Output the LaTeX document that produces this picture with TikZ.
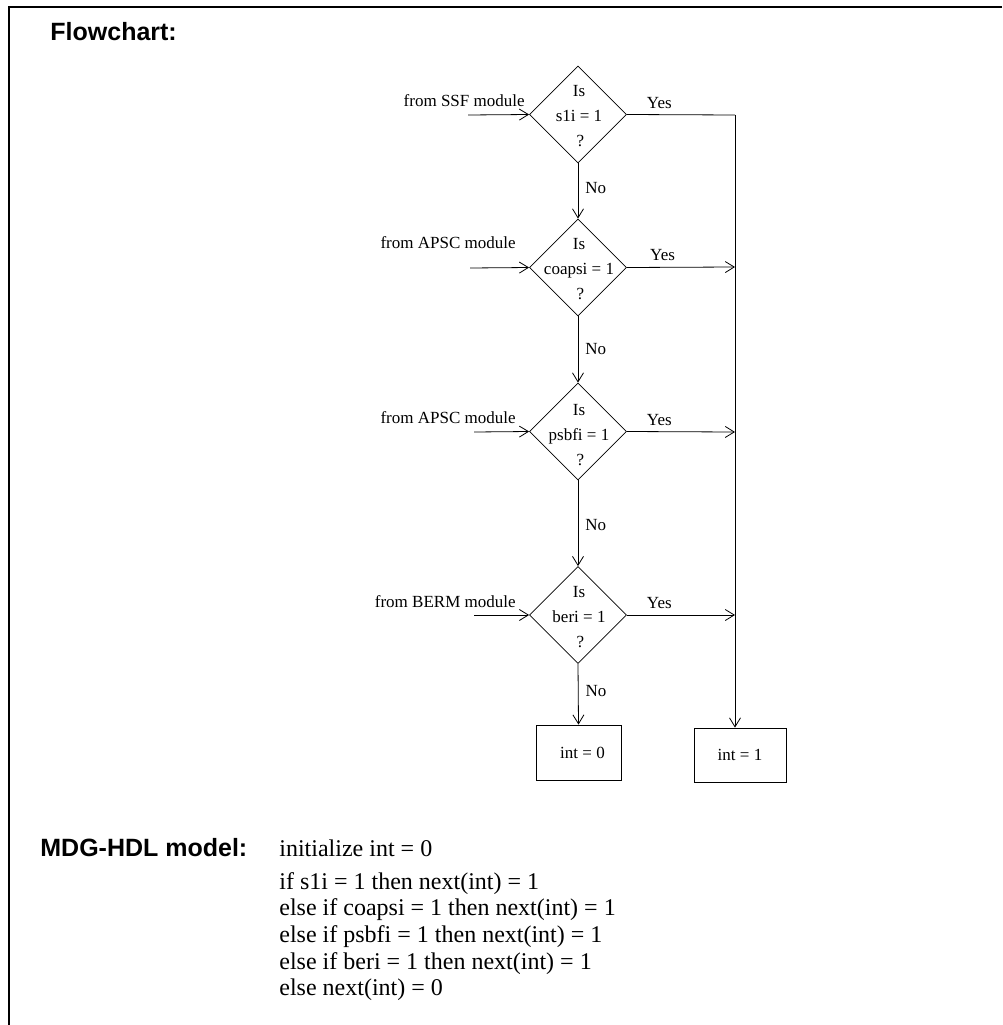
\documentclass[tikz,border=0pt]{standalone}
\usepackage{fontspec}
\setmainfont{Liberation Serif}
\newfontfamily\headfont{Liberation Sans}
\usetikzlibrary{shapes.geometric,arrows.meta}

\begin{document}
\begin{tikzpicture}[x=1pt,y=-1pt,
  every path/.style={line width=0.8pt},
  decision/.style={draw,diamond,minimum width=97pt,minimum height=97pt,inner sep=0pt},
  dtext/.style={align=center,inner sep=0pt,font=\fontsize{17}{25}\selectfont},
  result/.style={draw,rectangle,inner sep=0pt,font=\fontsize{17}{20}\selectfont},
  lbl/.style={inner sep=0pt,font=\fontsize{17}{20}\selectfont},
  head/.style={inner sep=0pt,anchor=west,font=\headfont\bfseries\fontsize{25}{30}\selectfont},
  code/.style={inner sep=0pt,align=left,font=\fontsize{24}{26.6}\selectfont},
  flow/.style={-{Straight Barb[length=9pt,width=11pt]}},
  frame/.style={line width=2pt}
]
\useasboundingbox (0,0) rectangle (1002,1025);

% open frame: top and left edges
\coordinate (ftl) at (9,7);
\coordinate (ftr) at (1002,7);
\coordinate (fbl) at (9,1025);
\draw[frame] (ftr) -- (ftl) -- (fbl);

% headings
\node[head] (hflow) at (50,32) {Flowchart:};
\node[head] (hmdg) at (40,848) {MDG-HDL model:};

% decisions
\node[decision] (d1) at (578,114.5) {};
\node[decision] (d2) at (578,267.5) {};
\node[decision] (d3) at (578,431.5) {};
\node[decision] (d4) at (578,615) {};
\node[dtext] (t1) at (579,116) {Is\\s1i = 1\\\,?};
\node[dtext] (t2) at (579,269) {Is\\coapsi = 1\\\,?};
\node[dtext] (t3) at (579,435) {Is\\psbfi = 1\\\,?};
\node[dtext] (t4) at (579,617) {Is\\beri = 1\\\,?};

% results
\node[result,minimum width=85pt,minimum height=55pt] (b0) at (578.5,752.5) {\hspace*{8pt}int = 0};
\node[result,minimum width=92pt,minimum height=54pt] (b1) at (740,755) {int = 1};

% incoming signals
\coordinate (s1) at (468,115);
\coordinate (s2) at (470,268);
\coordinate (s3) at (474,432);
\coordinate (s4) at (474,615);
\node[lbl,anchor=east] (l1) at (525,101) {from SSF module};
\node[lbl,anchor=east] (l2) at (516,243) {from APSC module};
\node[lbl,anchor=east] (l3) at (516,418) {from APSC module};
\node[lbl,anchor=east] (l4) at (516,602) {from BERM module};
\draw[flow] (s1) -- (d1.west);
\draw[flow] (s2) -- (d2.west);
\draw[flow] (s3) -- (d3.west);
\draw[flow] (s4) -- (d4.west);

% "No" branches
\draw[flow] (d1.south) -- node[lbl,right=7pt,pos=0.45] {No} (d2.north);
\draw[flow] (d2.south) -- node[lbl,right=7pt,pos=0.5] {No} (d3.north);
\draw[flow] (d3.south) -- node[lbl,right=7pt,pos=0.52] {No} (d4.north);
\draw[flow] (d4.south) -- node[lbl,right=7pt,pos=0.45] {No} (b0.north);

% "Yes" branches into the common line
\coordinate (c1) at (735,115);
\coordinate (j2) at (735,267);
\coordinate (j3) at (735,432);
\coordinate (j4) at (735,615);
\draw (d1.east) -- node[lbl,above=6pt,pos=0.3] {Yes} (c1);
\draw[flow] (c1) -- (c1 |- b1.north);
\draw[flow] (d2.east) -- node[lbl,above=6pt,pos=0.33] {Yes} (j2);
\draw[flow] (d3.east) -- node[lbl,above=6pt,pos=0.3] {Yes} (j3);
\draw[flow] (d4.east) -- node[lbl,above=6pt,pos=0.3] {Yes} (j4);

% MDG-HDL description
\node[code,anchor=west] (c0) at (279,848) {initialize int = 0};
\node[code,anchor=north west] (cbody) at (279,872) {if s1i = 1 then next(int) = 1\\
else if coapsi = 1 then next(int) = 1\\
else if psbfi = 1 then next(int) = 1\\
else if beri = 1 then next(int) = 1\\
else next(int) = 0};
\end{tikzpicture}
\end{document}
